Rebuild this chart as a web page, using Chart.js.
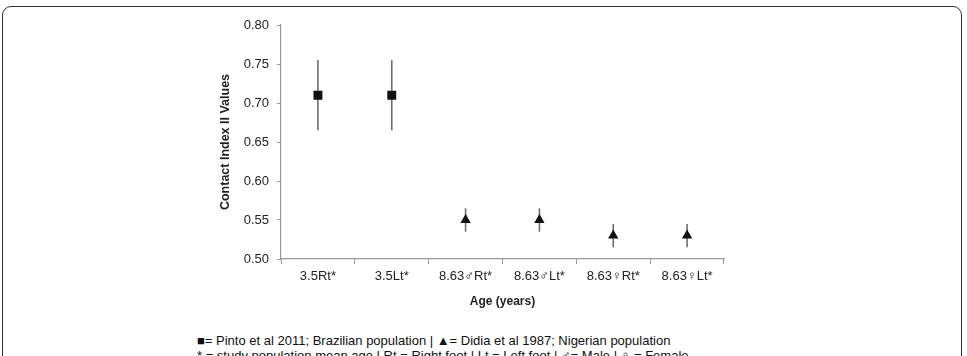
<!DOCTYPE html>
<html>
<head>
<meta charset="utf-8">
<script src="https://cdn.jsdelivr.net/npm/chart.js@4"></script>
<style>
  html, body { margin: 0; padding: 0; background: #fff; width: 967px; height: 356px; overflow: hidden; }
  #frame { position: absolute; left: 2px; top: 6px; width: 958px; height: 420px; border: 1.5px solid #333; border-radius: 9px; }
  #wrap { position: absolute; left: 0; top: 0; width: 967px; height: 315px; }
  .note { position: absolute; left: 197px; font: 13px "Liberation Sans", Arial, sans-serif; color: #111; white-space: nowrap; }
</style>
</head>
<body>
<div id="frame"></div>
<div id="wrap"><canvas id="c" width="967" height="315"></canvas></div>
<div class="note" style="top:333px">■= Pinto et al 2011; Brazilian population | ▲= Didia et al 1987; Nigerian population</div>
<div class="note" style="top:348px">* = study population mean age | Rt = Right foot | Lt = Left foot | ♂= Male | ♀ = Female</div>
<script>
const categories = ["3.5Rt*", "3.5Lt*", "8.63\u2642Rt*", "8.63\u2642Lt*", "8.63\u2640Rt*", "8.63\u2640Lt*"];
const pintoValues = [0.71, 0.71, null, null, null, null];
const didiaValues = [null, null, 0.55, 0.55, 0.53, 0.53];
const errLow  = [0.665, 0.665, 0.535, 0.535, 0.515, 0.515];
const errHigh = [0.755, 0.755, 0.565, 0.565, 0.545, 0.545];
const yTicks = [0.50, 0.55, 0.60, 0.65, 0.70, 0.75, 0.80];

const errorBars = {
  id: 'errorBars',
  beforeDatasetsDraw(chart) {
    const ctx = chart.ctx, xs = chart.scales.x, ys = chart.scales.y;
    ctx.save();
    ctx.strokeStyle = '#6e6e6e';
    ctx.lineWidth = 1.6;
    categories.forEach((c, i) => {
      const x = xs.getPixelForValue(i);
      ctx.beginPath();
      ctx.moveTo(x, ys.getPixelForValue(errLow[i]));
      ctx.lineTo(x, ys.getPixelForValue(errHigh[i]));
      ctx.stroke();
    });
    ctx.restore();
  }
};

const font = "'Liberation Sans', Arial, sans-serif";
new Chart(document.getElementById('c'), {
  type: 'line',
  data: {
    labels: categories,
    datasets: [
      { data: pintoValues, showLine: false, pointStyle: 'rect', pointRadius: 6.3, backgroundColor: '#111', borderColor: '#111', borderWidth: 0 },
      { data: didiaValues, showLine: false, pointStyle: 'triangle', pointRadius: 6, backgroundColor: '#111', borderColor: '#111', borderWidth: 0 }
    ]
  },
  options: {
    responsive: false,
    animation: false,
    events: [],
    layout: { padding: { left: 218, right: 243, top: 25, bottom: 2 } },
    plugins: { legend: { display: false }, tooltip: { enabled: false } },
    scales: {
      x: {
        offset: true,
        grid: { display: true, drawOnChartArea: false, drawTicks: true, tickLength: 5, color: '#999', offset: true },
        border: { color: '#999', width: 1.2 },
        ticks: { font: { family: font, size: 13 }, color: '#222', padding: 5, maxRotation: 0 },
        title: { display: true, text: 'Age (years)', font: { family: font, size: 12, weight: 'bold' }, color: '#222', padding: { top: 4, bottom: 4 } },
        afterFit: s => { s.height = 54; }
      },
      y: {
        min: 0.5, max: 0.8,
        afterBuildTicks: s => { s.ticks = yTicks.map(v => ({ value: v })); },
        grid: { display: true, drawOnChartArea: false, drawTicks: true, tickLength: 4, color: '#999' },
        border: { color: '#999', width: 1.2 },
        ticks: { font: { family: font, size: 13 }, color: '#222', padding: 8, callback: v => v.toFixed(2) },
        title: { display: true, text: 'Contact Index II Values', font: { family: font, size: 12.5, weight: 'bold' }, color: '#222', padding: 0 },
        afterFit: s => { s.width = 63; }
      }
    }
  },
  plugins: [errorBars]
});
</script>
</body>
</html>
